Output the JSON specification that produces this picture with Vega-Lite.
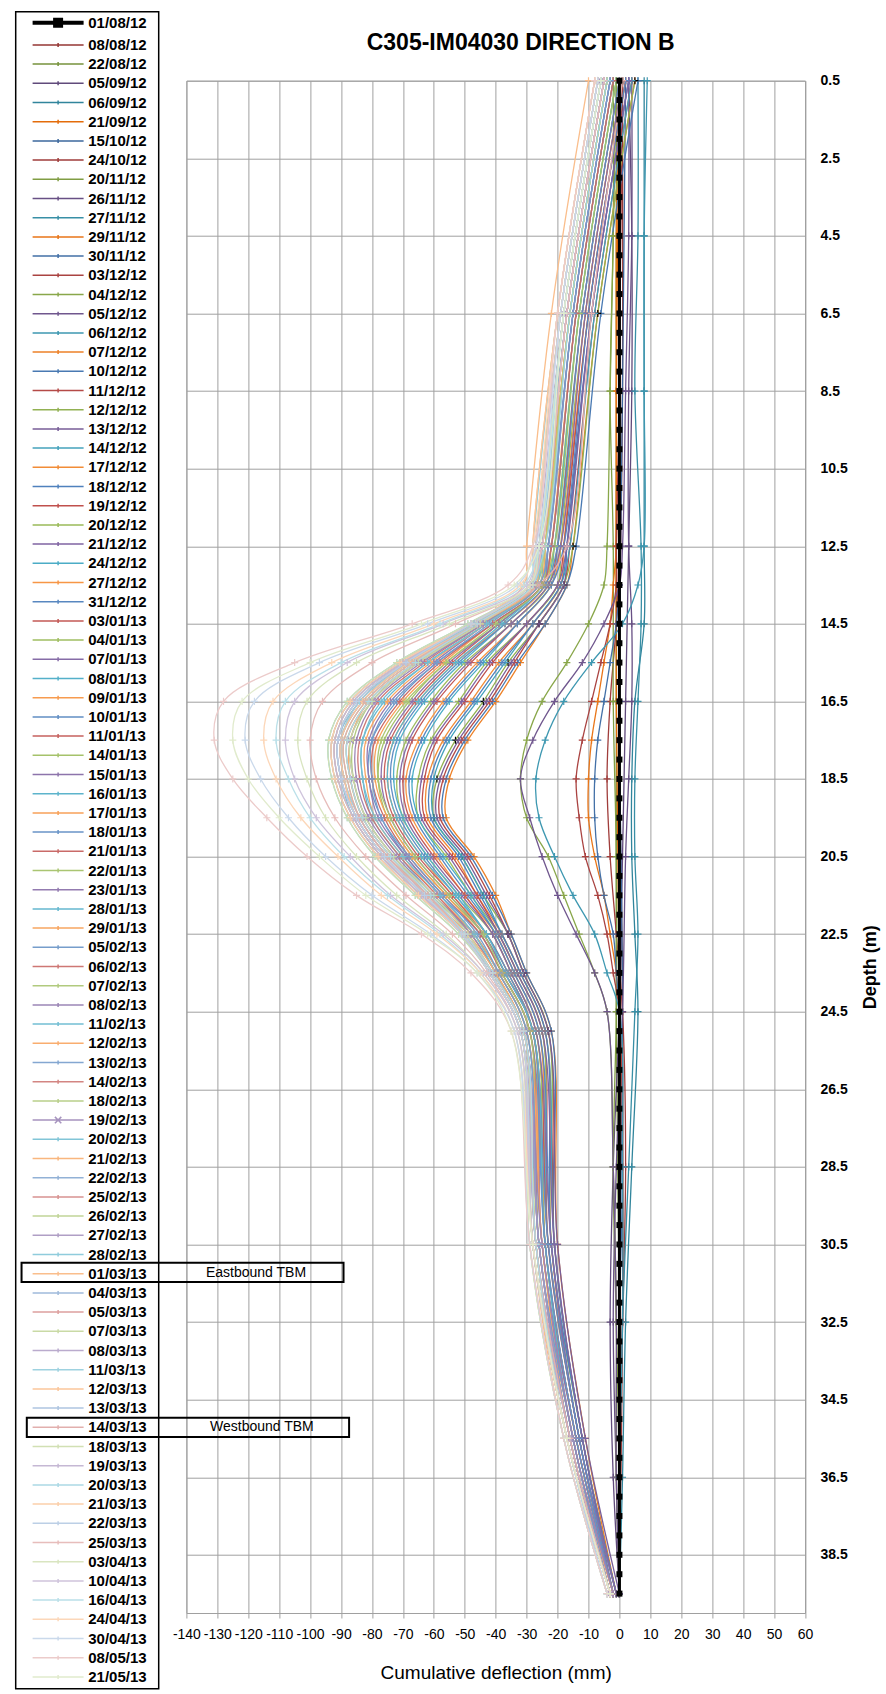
{
"$schema":"https://vega.github.io/schema/vega-lite/v6.json",
"width":618.6,"height":1532.3,
"autosize":{"type":"none"},
"padding":{"left":186.4,"top":80.7,"right":81,"bottom":81},
"background":"white",
"title":{"text":"C305-IM04030 DIRECTION B","font":"Liberation Sans","fontSize":23,"fontWeight":"bold","color":"black","anchor":"middle","frame":"group","dx":25,"offset":0,"dy":62,"baseline":"alphabetic"},
"config":{"view":{"stroke":"#A0A0A0","strokeWidth":1},"axis":{"gridColor":"#A0A0A0","gridWidth":1,"gridOpacity":1,"domainColor":"#A0A0A0","tickColor":"#A0A0A0"}},
"resolve":{"axis":{"x":"independent","y":"independent"}},
"datasets":{
"dates":[{"s":0,"d":"01/08/12"},{"s":1,"d":"08/08/12"},{"s":2,"d":"22/08/12"},{"s":3,"d":"05/09/12"},{"s":4,"d":"06/09/12"},{"s":5,"d":"21/09/12"},{"s":6,"d":"15/10/12"},{"s":7,"d":"24/10/12"},{"s":8,"d":"20/11/12"},{"s":9,"d":"26/11/12"},{"s":10,"d":"27/11/12"},{"s":11,"d":"29/11/12"},{"s":12,"d":"30/11/12"},{"s":13,"d":"03/12/12"},{"s":14,"d":"04/12/12"},{"s":15,"d":"05/12/12"},{"s":16,"d":"06/12/12"},{"s":17,"d":"07/12/12"},{"s":18,"d":"10/12/12"},{"s":19,"d":"11/12/12"},{"s":20,"d":"12/12/12"},{"s":21,"d":"13/12/12"},{"s":22,"d":"14/12/12"},{"s":23,"d":"17/12/12"},{"s":24,"d":"18/12/12"},{"s":25,"d":"19/12/12"},{"s":26,"d":"20/12/12"},{"s":27,"d":"21/12/12"},{"s":28,"d":"24/12/12"},{"s":29,"d":"27/12/12"},{"s":30,"d":"31/12/12"},{"s":31,"d":"03/01/13"},{"s":32,"d":"04/01/13"},{"s":33,"d":"07/01/13"},{"s":34,"d":"08/01/13"},{"s":35,"d":"09/01/13"},{"s":36,"d":"10/01/13"},{"s":37,"d":"11/01/13"},{"s":38,"d":"14/01/13"},{"s":39,"d":"15/01/13"},{"s":40,"d":"16/01/13"},{"s":41,"d":"17/01/13"},{"s":42,"d":"18/01/13"},{"s":43,"d":"21/01/13"},{"s":44,"d":"22/01/13"},{"s":45,"d":"23/01/13"},{"s":46,"d":"28/01/13"},{"s":47,"d":"29/01/13"},{"s":48,"d":"05/02/13"},{"s":49,"d":"06/02/13"},{"s":50,"d":"07/02/13"},{"s":51,"d":"08/02/13"},{"s":52,"d":"11/02/13"},{"s":53,"d":"12/02/13"},{"s":54,"d":"13/02/13"},{"s":55,"d":"14/02/13"},{"s":56,"d":"18/02/13"},{"s":57,"d":"19/02/13"},{"s":58,"d":"20/02/13"},{"s":59,"d":"21/02/13"},{"s":60,"d":"22/02/13"},{"s":61,"d":"25/02/13"},{"s":62,"d":"26/02/13"},{"s":63,"d":"27/02/13"},{"s":64,"d":"28/02/13"},{"s":65,"d":"01/03/13"},{"s":66,"d":"04/03/13"},{"s":67,"d":"05/03/13"},{"s":68,"d":"07/03/13"},{"s":69,"d":"08/03/13"},{"s":70,"d":"11/03/13"},{"s":71,"d":"12/03/13"},{"s":72,"d":"13/03/13"},{"s":73,"d":"14/03/13"},{"s":74,"d":"18/03/13"},{"s":75,"d":"19/03/13"},{"s":76,"d":"20/03/13"},{"s":77,"d":"21/03/13"},{"s":78,"d":"22/03/13"},{"s":79,"d":"25/03/13"},{"s":80,"d":"03/04/13"},{"s":81,"d":"10/04/13"},{"s":82,"d":"16/04/13"},{"s":83,"d":"24/04/13"},{"s":84,"d":"30/04/13"},{"s":85,"d":"08/05/13"},{"s":86,"d":"21/05/13"}],
"notes":[{"t":"Eastbound TBM"},{"t":"Westbound TBM"}],
"r":[
{"s":0,"z":0.5,"x":0},{"s":0,"z":1,"x":0},{"s":0,"z":1.5,"x":0},{"s":0,"z":2,"x":0},{"s":0,"z":2.5,"x":0},{"s":0,"z":3,"x":0},{"s":0,"z":3.5,"x":0},{"s":0,"z":4,"x":0},{"s":0,"z":4.5,"x":0},{"s":0,"z":5,"x":0},{"s":0,"z":5.5,"x":0},{"s":0,"z":6,"x":0},{"s":0,"z":6.5,"x":0},{"s":0,"z":7,"x":0},{"s":0,"z":7.5,"x":0},{"s":0,"z":8,"x":0},{"s":0,"z":8.5,"x":0},{"s":0,"z":9,"x":0},{"s":0,"z":9.5,"x":0},{"s":0,"z":10,"x":0},{"s":0,"z":10.5,"x":0},{"s":0,"z":11,"x":0},{"s":0,"z":11.5,"x":0},{"s":0,"z":12,"x":0},{"s":0,"z":12.5,"x":0},{"s":0,"z":13,"x":0},{"s":0,"z":13.5,"x":0},{"s":0,"z":14,"x":0},{"s":0,"z":14.5,"x":0},{"s":0,"z":15,"x":0},{"s":0,"z":15.5,"x":0},{"s":0,"z":16,"x":0},{"s":0,"z":16.5,"x":0},{"s":0,"z":17,"x":0},{"s":0,"z":17.5,"x":0},{"s":0,"z":18,"x":0},{"s":0,"z":18.5,"x":0},{"s":0,"z":19,"x":0},{"s":0,"z":19.5,"x":0},{"s":0,"z":20,"x":0},{"s":0,"z":20.5,"x":0},{"s":0,"z":21,"x":0},{"s":0,"z":21.5,"x":0},{"s":0,"z":22,"x":0},{"s":0,"z":22.5,"x":0},{"s":0,"z":23,"x":0},{"s":0,"z":23.5,"x":0},{"s":0,"z":24,"x":0},{"s":0,"z":24.5,"x":0},{"s":0,"z":25,"x":0},{"s":0,"z":25.5,"x":0},{"s":0,"z":26,"x":0},{"s":0,"z":26.5,"x":0},{"s":0,"z":27,"x":0},{"s":0,"z":27.5,"x":0},{"s":0,"z":28,"x":0},{"s":0,"z":28.5,"x":0},{"s":0,"z":29,"x":0},{"s":0,"z":29.5,"x":0},{"s":0,"z":30,"x":0},{"s":0,"z":30.5,"x":0},{"s":0,"z":31,"x":0},{"s":0,"z":31.5,"x":0},{"s":0,"z":32,"x":0},{"s":0,"z":32.5,"x":0},{"s":0,"z":33,"x":0},{"s":0,"z":33.5,"x":0},{"s":0,"z":34,"x":0},{"s":0,"z":34.5,"x":0},{"s":0,"z":35,"x":0},{"s":0,"z":35.5,"x":0},{"s":0,"z":36,"x":0},{"s":0,"z":36.5,"x":0},{"s":0,"z":37,"x":0},{"s":0,"z":37.5,"x":0},{"s":0,"z":38,"x":0},{"s":0,"z":38.5,"x":0},{"s":0,"z":39,"x":0},{"s":0,"z":39.5,"x":0},
{"s":1,"z":0.5,"x":1},{"s":1,"z":8.5,"x":1},{"s":1,"z":16.5,"x":0},{"s":1,"z":24.5,"x":1},{"s":1,"z":32.5,"x":1},{"s":1,"z":39.5,"x":0},
{"s":2,"z":0.5,"x":-1},{"s":2,"z":8.5,"x":-1},{"s":2,"z":16.5,"x":-1},{"s":2,"z":24.5,"x":-1},{"s":2,"z":32.5,"x":0},{"s":2,"z":39.5,"x":0},
{"s":3,"z":0.5,"x":3},{"s":3,"z":4.5,"x":4},{"s":3,"z":8.5,"x":4},{"s":3,"z":12.5,"x":3},{"s":3,"z":16.5,"x":2},{"s":3,"z":20.5,"x":1},{"s":3,"z":24.5,"x":0},{"s":3,"z":28.5,"x":-2},{"s":3,"z":32.5,"x":-3},{"s":3,"z":36.5,"x":-2},{"s":3,"z":39.5,"x":0},
{"s":4,"z":0.5,"x":8},{"s":4,"z":4.5,"x":8},{"s":4,"z":8.5,"x":8},{"s":4,"z":12.5,"x":8},{"s":4,"z":14.5,"x":8},{"s":4,"z":16.5,"x":5},{"s":4,"z":18.5,"x":4},{"s":4,"z":20.5,"x":4},{"s":4,"z":22.5,"x":5},{"s":4,"z":24.5,"x":6},{"s":4,"z":28.5,"x":4},{"s":4,"z":32.5,"x":2},{"s":4,"z":36.5,"x":1},{"s":4,"z":39.5,"x":0},
{"s":5,"z":0.5,"x":0},{"s":5,"z":8.5,"x":-1},{"s":5,"z":16.5,"x":-1},{"s":5,"z":24.5,"x":0},{"s":5,"z":32.5,"x":0},{"s":5,"z":39.5,"x":0},
{"s":6,"z":0.5,"x":2},{"s":6,"z":8.5,"x":1},{"s":6,"z":16.5,"x":0},{"s":6,"z":24.5,"x":1},{"s":6,"z":32.5,"x":0},{"s":6,"z":39.5,"x":0},
{"s":7,"z":0.5,"x":1},{"s":7,"z":8.5,"x":0},{"s":7,"z":12.5,"x":0},{"s":7,"z":14.5,"x":-1},{"s":7,"z":16.5,"x":-3},{"s":7,"z":18.5,"x":-4},{"s":7,"z":20.5,"x":-3},{"s":7,"z":22.5,"x":-1},{"s":7,"z":24.5,"x":1},{"s":7,"z":28.5,"x":2},{"s":7,"z":32.5,"x":1},{"s":7,"z":36.5,"x":0},{"s":7,"z":39.5,"x":0},
{"s":8,"z":0.5,"x":-2},{"s":8,"z":4.5,"x":-2},{"s":8,"z":8.5,"x":-3},{"s":8,"z":12.5,"x":-2},{"s":8,"z":16.5,"x":-2},{"s":8,"z":20.5,"x":-1},{"s":8,"z":24.5,"x":-1},{"s":8,"z":28.5,"x":-2},{"s":8,"z":32.5,"x":-1},{"s":8,"z":36.5,"x":0},{"s":8,"z":39.5,"x":0},
{"s":9,"z":0.5,"x":4},{"s":9,"z":4.5,"x":4},{"s":9,"z":8.5,"x":3},{"s":9,"z":12.5,"x":3},{"s":9,"z":14.5,"x":4},{"s":9,"z":16.5,"x":4},{"s":9,"z":18.5,"x":3},{"s":9,"z":20.5,"x":2},{"s":9,"z":24.5,"x":1},{"s":9,"z":28.5,"x":-1},{"s":9,"z":32.5,"x":-2},{"s":9,"z":36.5,"x":-1},{"s":9,"z":39.5,"x":0},
{"s":10,"z":0.5,"x":6},{"s":10,"z":4.5,"x":6},{"s":10,"z":8.5,"x":5},{"s":10,"z":12.5,"x":7},{"s":10,"z":14.5,"x":7},{"s":10,"z":16.5,"x":6},{"s":10,"z":18.5,"x":5},{"s":10,"z":20.5,"x":5},{"s":10,"z":22.5,"x":6},{"s":10,"z":24.5,"x":5},{"s":10,"z":28.5,"x":3},{"s":10,"z":32.5,"x":1},{"s":10,"z":36.5,"x":0},{"s":10,"z":39.5,"x":0},
{"s":11,"z":0.5,"x":0},{"s":11,"z":4.5,"x":-1},{"s":11,"z":8.5,"x":-1},{"s":11,"z":12.5,"x":-1},{"s":11,"z":13.5,"x":-2},{"s":11,"z":14.5,"x":-3},{"s":11,"z":15.5,"x":-5},{"s":11,"z":16.5,"x":-7},{"s":11,"z":17.5,"x":-9},{"s":11,"z":18.5,"x":-10},{"s":11,"z":19.5,"x":-10},{"s":11,"z":20.5,"x":-8},{"s":11,"z":21.5,"x":-5},{"s":11,"z":22.5,"x":-3},{"s":11,"z":23.5,"x":-1},{"s":11,"z":24.5,"x":0},{"s":11,"z":28.5,"x":0},{"s":11,"z":32.5,"x":0},{"s":11,"z":36.5,"x":0},{"s":11,"z":39.5,"x":0},
{"s":12,"z":0.5,"x":1},{"s":12,"z":4.5,"x":0},{"s":12,"z":8.5,"x":0},{"s":12,"z":12.5,"x":0},{"s":12,"z":13.5,"x":0},{"s":12,"z":14.5,"x":-1},{"s":12,"z":15.5,"x":-3},{"s":12,"z":16.5,"x":-5},{"s":12,"z":17.5,"x":-7},{"s":12,"z":18.5,"x":-8},{"s":12,"z":19.5,"x":-8},{"s":12,"z":20.5,"x":-7},{"s":12,"z":21.5,"x":-5},{"s":12,"z":22.5,"x":-2},{"s":12,"z":23.5,"x":-1},{"s":12,"z":24.5,"x":0},{"s":12,"z":28.5,"x":1},{"s":12,"z":32.5,"x":0},{"s":12,"z":36.5,"x":0},{"s":12,"z":39.5,"x":0},
{"s":13,"z":0.5,"x":1},{"s":13,"z":4.5,"x":0},{"s":13,"z":8.5,"x":0},{"s":13,"z":12.5,"x":-1},{"s":13,"z":13.5,"x":-1},{"s":13,"z":14.5,"x":-3},{"s":13,"z":15.5,"x":-6},{"s":13,"z":16.5,"x":-9},{"s":13,"z":17.5,"x":-12},{"s":13,"z":18.5,"x":-14},{"s":13,"z":19.5,"x":-13},{"s":13,"z":20.5,"x":-11},{"s":13,"z":21.5,"x":-7},{"s":13,"z":22.5,"x":-4},{"s":13,"z":23.5,"x":-2},{"s":13,"z":24.5,"x":0},{"s":13,"z":28.5,"x":1},{"s":13,"z":32.5,"x":1},{"s":13,"z":36.5,"x":0},{"s":13,"z":39.5,"x":0},
{"s":14,"z":0.5,"x":-1},{"s":14,"z":4.5,"x":-2},{"s":14,"z":8.5,"x":-3},{"s":14,"z":12.5,"x":-4},{"s":14,"z":13.5,"x":-5},{"s":14,"z":14.5,"x":-10},{"s":14,"z":15.5,"x":-17},{"s":14,"z":16.5,"x":-25},{"s":14,"z":17.5,"x":-30},{"s":14,"z":18.5,"x":-32},{"s":14,"z":19.5,"x":-30},{"s":14,"z":20.5,"x":-23},{"s":14,"z":21.5,"x":-18},{"s":14,"z":22.5,"x":-13},{"s":14,"z":23.5,"x":-8},{"s":14,"z":24.5,"x":-4},{"s":14,"z":28.5,"x":-2},{"s":14,"z":32.5,"x":-1},{"s":14,"z":36.5,"x":-1},{"s":14,"z":39.5,"x":0},
{"s":15,"z":0.5,"x":3},{"s":15,"z":4.5,"x":3},{"s":15,"z":8.5,"x":2},{"s":15,"z":12.5,"x":1},{"s":15,"z":13.5,"x":0},{"s":15,"z":14.5,"x":-5},{"s":15,"z":15.5,"x":-12},{"s":15,"z":16.5,"x":-21},{"s":15,"z":17.5,"x":-28},{"s":15,"z":18.5,"x":-32},{"s":15,"z":19.5,"x":-29},{"s":15,"z":20.5,"x":-25},{"s":15,"z":21.5,"x":-20},{"s":15,"z":22.5,"x":-14},{"s":15,"z":23.5,"x":-8},{"s":15,"z":24.5,"x":-4},{"s":15,"z":28.5,"x":-2},{"s":15,"z":32.5,"x":-1},{"s":15,"z":36.5,"x":-1},{"s":15,"z":39.5,"x":0},
{"s":16,"z":0.5,"x":9},{"s":16,"z":4.5,"x":8},{"s":16,"z":8.5,"x":8},{"s":16,"z":12.5,"x":8},{"s":16,"z":13.5,"x":6},{"s":16,"z":14.5,"x":1},{"s":16,"z":15.5,"x":-9},{"s":16,"z":16.5,"x":-18},{"s":16,"z":17.5,"x":-24},{"s":16,"z":18.5,"x":-27},{"s":16,"z":19.5,"x":-26},{"s":16,"z":20.5,"x":-21},{"s":16,"z":21.5,"x":-15},{"s":16,"z":22.5,"x":-8},{"s":16,"z":23.5,"x":-4},{"s":16,"z":24.5,"x":0},{"s":16,"z":28.5,"x":1},{"s":16,"z":32.5,"x":1},{"s":16,"z":36.5,"x":0},{"s":16,"z":39.5,"x":0},
{"s":17,"z":0.5,"x":5},{"s":17,"z":6.5,"x":-7},{"s":17,"z":12.5,"x":-15},{"s":17,"z":13.5,"x":-17},{"s":17,"z":14.5,"x":-24},{"s":17,"z":15.5,"x":-32},{"s":17,"z":16.5,"x":-40},{"s":17,"z":17.5,"x":-49},{"s":17,"z":18.5,"x":-55},{"s":17,"z":19.5,"x":-56},{"s":17,"z":20.5,"x":-47},{"s":17,"z":21.5,"x":-40},{"s":17,"z":22.5,"x":-35},{"s":17,"z":23.5,"x":-30},{"s":17,"z":25,"x":-22},{"s":17,"z":30.5,"x":-20},{"s":17,"z":35.5,"x":-11},{"s":17,"z":39.5,"x":-1},
{"s":18,"z":0.5,"x":6},{"s":18,"z":6.5,"x":-6},{"s":18,"z":12.5,"x":-14},{"s":18,"z":13.5,"x":-17},{"s":18,"z":14.5,"x":-24},{"s":18,"z":15.5,"x":-33},{"s":18,"z":16.5,"x":-41},{"s":18,"z":17.5,"x":-50},{"s":18,"z":18.5,"x":-56},{"s":18,"z":19.5,"x":-57},{"s":18,"z":20.5,"x":-48},{"s":18,"z":21.5,"x":-41},{"s":18,"z":22.5,"x":-35},{"s":18,"z":23.5,"x":-30},{"s":18,"z":25,"x":-22},{"s":18,"z":30.5,"x":-21},{"s":18,"z":35.5,"x":-12},{"s":18,"z":39.5,"x":-1},
{"s":19,"z":0.5,"x":4},{"s":19,"z":6.5,"x":-8},{"s":19,"z":12.5,"x":-16},{"s":19,"z":13.5,"x":-18},{"s":19,"z":14.5,"x":-26},{"s":19,"z":15.5,"x":-34},{"s":19,"z":16.5,"x":-42},{"s":19,"z":17.5,"x":-51},{"s":19,"z":18.5,"x":-57},{"s":19,"z":19.5,"x":-58},{"s":19,"z":20.5,"x":-49},{"s":19,"z":21.5,"x":-42},{"s":19,"z":22.5,"x":-36},{"s":19,"z":23.5,"x":-31},{"s":19,"z":25,"x":-23},{"s":19,"z":30.5,"x":-21},{"s":19,"z":35.5,"x":-12},{"s":19,"z":39.5,"x":-1},
{"s":20,"z":0.5,"x":5},{"s":20,"z":6.5,"x":-7},{"s":20,"z":12.5,"x":-15},{"s":20,"z":13.5,"x":-18},{"s":20,"z":14.5,"x":-26},{"s":20,"z":15.5,"x":-36},{"s":20,"z":16.5,"x":-44},{"s":20,"z":17.5,"x":-53},{"s":20,"z":18.5,"x":-59},{"s":20,"z":19.5,"x":-60},{"s":20,"z":20.5,"x":-51},{"s":20,"z":21.5,"x":-44},{"s":20,"z":22.5,"x":-36},{"s":20,"z":23.5,"x":-31},{"s":20,"z":25,"x":-23},{"s":20,"z":30.5,"x":-22},{"s":20,"z":35.5,"x":-12},{"s":20,"z":39.5,"x":-1},
{"s":21,"z":0.5,"x":3},{"s":21,"z":6.5,"x":-9},{"s":21,"z":12.5,"x":-17},{"s":21,"z":13.5,"x":-18},{"s":21,"z":14.5,"x":-26},{"s":21,"z":15.5,"x":-35},{"s":21,"z":16.5,"x":-43},{"s":21,"z":17.5,"x":-52},{"s":21,"z":18.5,"x":-58},{"s":21,"z":19.5,"x":-59},{"s":21,"z":20.5,"x":-50},{"s":21,"z":21.5,"x":-43},{"s":21,"z":22.5,"x":-36},{"s":21,"z":23.5,"x":-31},{"s":21,"z":25,"x":-23},{"s":21,"z":30.5,"x":-20},{"s":21,"z":35.5,"x":-11},{"s":21,"z":39.5,"x":0},
{"s":22,"z":0.5,"x":4},{"s":22,"z":6.5,"x":-8},{"s":22,"z":12.5,"x":-16},{"s":22,"z":13.5,"x":-19},{"s":22,"z":14.5,"x":-28},{"s":22,"z":15.5,"x":-37},{"s":22,"z":16.5,"x":-46},{"s":22,"z":17.5,"x":-55},{"s":22,"z":18.5,"x":-60},{"s":22,"z":19.5,"x":-60},{"s":22,"z":20.5,"x":-51},{"s":22,"z":21.5,"x":-44},{"s":22,"z":22.5,"x":-38},{"s":22,"z":23.5,"x":-32},{"s":22,"z":25,"x":-24},{"s":22,"z":30.5,"x":-21},{"s":22,"z":35.5,"x":-12},{"s":22,"z":39.5,"x":-1},
{"s":23,"z":0.5,"x":2},{"s":23,"z":6.5,"x":-10},{"s":23,"z":12.5,"x":-18},{"s":23,"z":13.5,"x":-19},{"s":23,"z":14.5,"x":-28},{"s":23,"z":15.5,"x":-39},{"s":23,"z":16.5,"x":-48},{"s":23,"z":17.5,"x":-57},{"s":23,"z":18.5,"x":-62},{"s":23,"z":19.5,"x":-62},{"s":23,"z":20.5,"x":-53},{"s":23,"z":21.5,"x":-46},{"s":23,"z":22.5,"x":-38},{"s":23,"z":23.5,"x":-32},{"s":23,"z":25,"x":-24},{"s":23,"z":30.5,"x":-22},{"s":23,"z":35.5,"x":-13},{"s":23,"z":39.5,"x":-1},
{"s":24,"z":0.5,"x":3},{"s":24,"z":6.5,"x":-9},{"s":24,"z":12.5,"x":-17},{"s":24,"z":13.5,"x":-19},{"s":24,"z":14.5,"x":-28},{"s":24,"z":15.5,"x":-38},{"s":24,"z":16.5,"x":-47},{"s":24,"z":17.5,"x":-56},{"s":24,"z":18.5,"x":-61},{"s":24,"z":19.5,"x":-61},{"s":24,"z":20.5,"x":-52},{"s":24,"z":21.5,"x":-45},{"s":24,"z":22.5,"x":-38},{"s":24,"z":23.5,"x":-32},{"s":24,"z":25,"x":-24},{"s":24,"z":30.5,"x":-22},{"s":24,"z":35.5,"x":-12},{"s":24,"z":39.5,"x":-2},
{"s":25,"z":0.5,"x":2},{"s":25,"z":6.5,"x":-10},{"s":25,"z":12.5,"x":-18},{"s":25,"z":13.5,"x":-20},{"s":25,"z":14.5,"x":-30},{"s":25,"z":15.5,"x":-41},{"s":25,"z":16.5,"x":-50},{"s":25,"z":17.5,"x":-59},{"s":25,"z":18.5,"x":-63},{"s":25,"z":19.5,"x":-63},{"s":25,"z":20.5,"x":-54},{"s":25,"z":21.5,"x":-46},{"s":25,"z":22.5,"x":-39},{"s":25,"z":23.5,"x":-33},{"s":25,"z":25,"x":-25},{"s":25,"z":30.5,"x":-23},{"s":25,"z":35.5,"x":-13},{"s":25,"z":39.5,"x":-2},
{"s":26,"z":0.5,"x":1},{"s":26,"z":6.5,"x":-11},{"s":26,"z":12.5,"x":-19},{"s":26,"z":13.5,"x":-20},{"s":26,"z":14.5,"x":-30},{"s":26,"z":15.5,"x":-43},{"s":26,"z":16.5,"x":-52},{"s":26,"z":17.5,"x":-61},{"s":26,"z":18.5,"x":-65},{"s":26,"z":19.5,"x":-65},{"s":26,"z":20.5,"x":-56},{"s":26,"z":21.5,"x":-48},{"s":26,"z":22.5,"x":-39},{"s":26,"z":23.5,"x":-33},{"s":26,"z":25,"x":-25},{"s":26,"z":30.5,"x":-24},{"s":26,"z":35.5,"x":-14},{"s":26,"z":39.5,"x":-2},
{"s":27,"z":0.5,"x":3},{"s":27,"z":6.5,"x":-9},{"s":27,"z":12.5,"x":-17},{"s":27,"z":13.5,"x":-20},{"s":27,"z":14.5,"x":-30},{"s":27,"z":15.5,"x":-42},{"s":27,"z":16.5,"x":-51},{"s":27,"z":17.5,"x":-60},{"s":27,"z":18.5,"x":-64},{"s":27,"z":19.5,"x":-64},{"s":27,"z":20.5,"x":-55},{"s":27,"z":21.5,"x":-47},{"s":27,"z":22.5,"x":-39},{"s":27,"z":23.5,"x":-33},{"s":27,"z":25,"x":-25},{"s":27,"z":30.5,"x":-21},{"s":27,"z":35.5,"x":-12},{"s":27,"z":39.5,"x":-1},
{"s":28,"z":0.5,"x":0},{"s":28,"z":6.5,"x":-12},{"s":28,"z":12.5,"x":-20},{"s":28,"z":13.5,"x":-22},{"s":28,"z":14.5,"x":-33},{"s":28,"z":15.5,"x":-44},{"s":28,"z":16.5,"x":-55},{"s":28,"z":17.5,"x":-63},{"s":28,"z":18.5,"x":-67},{"s":28,"z":19.5,"x":-65},{"s":28,"z":20.5,"x":-57},{"s":28,"z":21.5,"x":-48},{"s":28,"z":22.5,"x":-40},{"s":28,"z":23.5,"x":-34},{"s":28,"z":25,"x":-26},{"s":28,"z":30.5,"x":-23},{"s":28,"z":35.5,"x":-13},{"s":28,"z":39.5,"x":-2},
{"s":29,"z":0.5,"x":1},{"s":29,"z":6.5,"x":-11},{"s":29,"z":12.5,"x":-19},{"s":29,"z":13.5,"x":-22},{"s":29,"z":14.5,"x":-33},{"s":29,"z":15.5,"x":-46},{"s":29,"z":16.5,"x":-57},{"s":29,"z":17.5,"x":-65},{"s":29,"z":18.5,"x":-69},{"s":29,"z":19.5,"x":-67},{"s":29,"z":20.5,"x":-59},{"s":29,"z":21.5,"x":-50},{"s":29,"z":22.5,"x":-40},{"s":29,"z":23.5,"x":-34},{"s":29,"z":25,"x":-26},{"s":29,"z":30.5,"x":-24},{"s":29,"z":35.5,"x":-14},{"s":29,"z":39.5,"x":-2},
{"s":30,"z":0.5,"x":2},{"s":30,"z":6.5,"x":-10},{"s":30,"z":12.5,"x":-18},{"s":30,"z":13.5,"x":-22},{"s":30,"z":14.5,"x":-33},{"s":30,"z":15.5,"x":-45},{"s":30,"z":16.5,"x":-56},{"s":30,"z":17.5,"x":-64},{"s":30,"z":18.5,"x":-68},{"s":30,"z":19.5,"x":-66},{"s":30,"z":20.5,"x":-58},{"s":30,"z":21.5,"x":-49},{"s":30,"z":22.5,"x":-40},{"s":30,"z":23.5,"x":-34},{"s":30,"z":25,"x":-26},{"s":30,"z":30.5,"x":-22},{"s":30,"z":35.5,"x":-13},{"s":30,"z":39.5,"x":-1},
{"s":31,"z":0.5,"x":0},{"s":31,"z":6.5,"x":-12},{"s":31,"z":12.5,"x":-20},{"s":31,"z":13.5,"x":-23},{"s":31,"z":14.5,"x":-35},{"s":31,"z":15.5,"x":-48},{"s":31,"z":16.5,"x":-59},{"s":31,"z":17.5,"x":-67},{"s":31,"z":18.5,"x":-70},{"s":31,"z":19.5,"x":-68},{"s":31,"z":20.5,"x":-60},{"s":31,"z":21.5,"x":-50},{"s":31,"z":22.5,"x":-41},{"s":31,"z":23.5,"x":-35},{"s":31,"z":25,"x":-27},{"s":31,"z":30.5,"x":-23},{"s":31,"z":35.5,"x":-13},{"s":31,"z":39.5,"x":-2},
{"s":32,"z":0.5,"x":-1},{"s":32,"z":6.5,"x":-13},{"s":32,"z":12.5,"x":-21},{"s":32,"z":13.5,"x":-23},{"s":32,"z":14.5,"x":-35},{"s":32,"z":15.5,"x":-50},{"s":32,"z":16.5,"x":-61},{"s":32,"z":17.5,"x":-69},{"s":32,"z":18.5,"x":-72},{"s":32,"z":19.5,"x":-70},{"s":32,"z":20.5,"x":-62},{"s":32,"z":21.5,"x":-52},{"s":32,"z":22.5,"x":-41},{"s":32,"z":23.5,"x":-35},{"s":32,"z":25,"x":-27},{"s":32,"z":30.5,"x":-24},{"s":32,"z":35.5,"x":-14},{"s":32,"z":39.5,"x":-2},
{"s":33,"z":0.5,"x":1},{"s":33,"z":6.5,"x":-11},{"s":33,"z":12.5,"x":-19},{"s":33,"z":13.5,"x":-23},{"s":33,"z":14.5,"x":-35},{"s":33,"z":15.5,"x":-49},{"s":33,"z":16.5,"x":-60},{"s":33,"z":17.5,"x":-68},{"s":33,"z":18.5,"x":-71},{"s":33,"z":19.5,"x":-69},{"s":33,"z":20.5,"x":-61},{"s":33,"z":21.5,"x":-51},{"s":33,"z":22.5,"x":-41},{"s":33,"z":23.5,"x":-35},{"s":33,"z":25,"x":-27},{"s":33,"z":30.5,"x":-22},{"s":33,"z":35.5,"x":-13},{"s":33,"z":39.5,"x":-1},
{"s":34,"z":0.5,"x":-1},{"s":34,"z":6.5,"x":-13},{"s":34,"z":12.5,"x":-21},{"s":34,"z":13.5,"x":-24},{"s":34,"z":14.5,"x":-37},{"s":34,"z":15.5,"x":-51},{"s":34,"z":16.5,"x":-63},{"s":34,"z":17.5,"x":-71},{"s":34,"z":18.5,"x":-73},{"s":34,"z":19.5,"x":-70},{"s":34,"z":20.5,"x":-62},{"s":34,"z":21.5,"x":-52},{"s":34,"z":22.5,"x":-43},{"s":34,"z":23.5,"x":-36},{"s":34,"z":25,"x":-28},{"s":34,"z":30.5,"x":-24},{"s":34,"z":35.5,"x":-14},{"s":34,"z":39.5,"x":-2},
{"s":35,"z":0.5,"x":-2},{"s":35,"z":6.5,"x":-14},{"s":35,"z":12.5,"x":-22},{"s":35,"z":13.5,"x":-24},{"s":35,"z":14.5,"x":-37},{"s":35,"z":15.5,"x":-53},{"s":35,"z":16.5,"x":-65},{"s":35,"z":17.5,"x":-73},{"s":35,"z":18.5,"x":-75},{"s":35,"z":19.5,"x":-72},{"s":35,"z":20.5,"x":-64},{"s":35,"z":21.5,"x":-54},{"s":35,"z":22.5,"x":-43},{"s":35,"z":23.5,"x":-36},{"s":35,"z":25,"x":-28},{"s":35,"z":30.5,"x":-25},{"s":35,"z":35.5,"x":-14},{"s":35,"z":39.5,"x":-2},
{"s":36,"z":0.5,"x":0},{"s":36,"z":6.5,"x":-12},{"s":36,"z":12.5,"x":-20},{"s":36,"z":13.5,"x":-24},{"s":36,"z":14.5,"x":-37},{"s":36,"z":15.5,"x":-52},{"s":36,"z":16.5,"x":-64},{"s":36,"z":17.5,"x":-72},{"s":36,"z":18.5,"x":-74},{"s":36,"z":19.5,"x":-71},{"s":36,"z":20.5,"x":-63},{"s":36,"z":21.5,"x":-53},{"s":36,"z":22.5,"x":-43},{"s":36,"z":23.5,"x":-36},{"s":36,"z":25,"x":-28},{"s":36,"z":30.5,"x":-23},{"s":36,"z":35.5,"x":-13},{"s":36,"z":39.5,"x":-2},
{"s":37,"z":0.5,"x":-2},{"s":37,"z":6.5,"x":-14},{"s":37,"z":12.5,"x":-22},{"s":37,"z":13.5,"x":-25},{"s":37,"z":14.5,"x":-39},{"s":37,"z":15.5,"x":-54},{"s":37,"z":16.5,"x":-66},{"s":37,"z":17.5,"x":-74},{"s":37,"z":18.5,"x":-76},{"s":37,"z":19.5,"x":-73},{"s":37,"z":20.5,"x":-65},{"s":37,"z":21.5,"x":-54},{"s":37,"z":22.5,"x":-44},{"s":37,"z":23.5,"x":-37},{"s":37,"z":25,"x":-28},{"s":37,"z":30.5,"x":-24},{"s":37,"z":35.5,"x":-14},{"s":37,"z":39.5,"x":-2},
{"s":38,"z":0.5,"x":-1},{"s":38,"z":6.5,"x":-13},{"s":38,"z":12.5,"x":-21},{"s":38,"z":13.5,"x":-25},{"s":38,"z":14.5,"x":-39},{"s":38,"z":15.5,"x":-56},{"s":38,"z":16.5,"x":-68},{"s":38,"z":17.5,"x":-76},{"s":38,"z":18.5,"x":-78},{"s":38,"z":19.5,"x":-75},{"s":38,"z":20.5,"x":-67},{"s":38,"z":21.5,"x":-56},{"s":38,"z":22.5,"x":-44},{"s":38,"z":23.5,"x":-37},{"s":38,"z":25,"x":-28},{"s":38,"z":30.5,"x":-26},{"s":38,"z":35.5,"x":-15},{"s":38,"z":39.5,"x":-3},
{"s":39,"z":0.5,"x":-3},{"s":39,"z":6.5,"x":-15},{"s":39,"z":12.5,"x":-23},{"s":39,"z":13.5,"x":-25},{"s":39,"z":14.5,"x":-39},{"s":39,"z":15.5,"x":-55},{"s":39,"z":16.5,"x":-67},{"s":39,"z":17.5,"x":-75},{"s":39,"z":18.5,"x":-77},{"s":39,"z":19.5,"x":-74},{"s":39,"z":20.5,"x":-66},{"s":39,"z":21.5,"x":-55},{"s":39,"z":22.5,"x":-44},{"s":39,"z":23.5,"x":-37},{"s":39,"z":25,"x":-28},{"s":39,"z":30.5,"x":-25},{"s":39,"z":35.5,"x":-14},{"s":39,"z":39.5,"x":-2},
{"s":40,"z":0.5,"x":-2},{"s":40,"z":6.5,"x":-14},{"s":40,"z":12.5,"x":-22},{"s":40,"z":13.5,"x":-25},{"s":40,"z":14.5,"x":-38},{"s":40,"z":15.5,"x":-53},{"s":40,"z":16.5,"x":-65},{"s":40,"z":17.5,"x":-73},{"s":40,"z":18.5,"x":-75},{"s":40,"z":19.5,"x":-72},{"s":40,"z":20.5,"x":-64},{"s":40,"z":21.5,"x":-53},{"s":40,"z":22.5,"x":-43},{"s":40,"z":23.5,"x":-37},{"s":40,"z":25,"x":-28},{"s":40,"z":30.5,"x":-24},{"s":40,"z":35.5,"x":-15},{"s":40,"z":39.5,"x":-2},
{"s":41,"z":0.5,"x":-4},{"s":41,"z":6.5,"x":-16},{"s":41,"z":12.5,"x":-24},{"s":41,"z":13.5,"x":-25},{"s":41,"z":14.5,"x":-41},{"s":41,"z":15.5,"x":-57},{"s":41,"z":16.5,"x":-70},{"s":41,"z":17.5,"x":-78},{"s":41,"z":18.5,"x":-79},{"s":41,"z":19.5,"x":-75},{"s":41,"z":20.5,"x":-67},{"s":41,"z":21.5,"x":-56},{"s":41,"z":22.5,"x":-45},{"s":41,"z":23.5,"x":-38},{"s":41,"z":25,"x":-29},{"s":41,"z":30.5,"x":-25},{"s":41,"z":35.5,"x":-15},{"s":41,"z":39.5,"x":-2},
{"s":42,"z":0.5,"x":-3},{"s":42,"z":6.5,"x":-15},{"s":42,"z":12.5,"x":-23},{"s":42,"z":13.5,"x":-25},{"s":42,"z":14.5,"x":-41},{"s":42,"z":15.5,"x":-59},{"s":42,"z":16.5,"x":-72},{"s":42,"z":17.5,"x":-80},{"s":42,"z":18.5,"x":-81},{"s":42,"z":19.5,"x":-77},{"s":42,"z":20.5,"x":-69},{"s":42,"z":21.5,"x":-58},{"s":42,"z":22.5,"x":-45},{"s":42,"z":23.5,"x":-38},{"s":42,"z":25,"x":-29},{"s":42,"z":30.5,"x":-24},{"s":42,"z":35.5,"x":-14},{"s":42,"z":39.5,"x":-2},
{"s":43,"z":0.5,"x":-2},{"s":43,"z":6.5,"x":-14},{"s":43,"z":12.5,"x":-22},{"s":43,"z":13.5,"x":-25},{"s":43,"z":14.5,"x":-41},{"s":43,"z":15.5,"x":-58},{"s":43,"z":16.5,"x":-71},{"s":43,"z":17.5,"x":-79},{"s":43,"z":18.5,"x":-80},{"s":43,"z":19.5,"x":-76},{"s":43,"z":20.5,"x":-68},{"s":43,"z":21.5,"x":-57},{"s":43,"z":22.5,"x":-45},{"s":43,"z":23.5,"x":-38},{"s":43,"z":25,"x":-29},{"s":43,"z":30.5,"x":-26},{"s":43,"z":35.5,"x":-15},{"s":43,"z":39.5,"x":-3},
{"s":44,"z":0.5,"x":-4},{"s":44,"z":6.5,"x":-16},{"s":44,"z":12.5,"x":-24},{"s":44,"z":13.5,"x":-25},{"s":44,"z":14.5,"x":-40},{"s":44,"z":15.5,"x":-56},{"s":44,"z":16.5,"x":-69},{"s":44,"z":17.5,"x":-77},{"s":44,"z":18.5,"x":-78},{"s":44,"z":19.5,"x":-74},{"s":44,"z":20.5,"x":-66},{"s":44,"z":21.5,"x":-55},{"s":44,"z":22.5,"x":-44},{"s":44,"z":23.5,"x":-38},{"s":44,"z":25,"x":-29},{"s":44,"z":30.5,"x":-27},{"s":44,"z":35.5,"x":-16},{"s":44,"z":39.5,"x":-3},
{"s":45,"z":0.5,"x":-3},{"s":45,"z":6.5,"x":-15},{"s":45,"z":12.5,"x":-23},{"s":45,"z":13.5,"x":-26},{"s":45,"z":14.5,"x":-43},{"s":45,"z":15.5,"x":-60},{"s":45,"z":16.5,"x":-74},{"s":45,"z":17.5,"x":-81},{"s":45,"z":18.5,"x":-81},{"s":45,"z":19.5,"x":-78},{"s":45,"z":20.5,"x":-69},{"s":45,"z":21.5,"x":-58},{"s":45,"z":22.5,"x":-47},{"s":45,"z":23.5,"x":-39},{"s":45,"z":25,"x":-30},{"s":45,"z":30.5,"x":-25},{"s":45,"z":35.5,"x":-15},{"s":45,"z":39.5,"x":-2},
{"s":46,"z":0.5,"x":-5},{"s":46,"z":6.5,"x":-17},{"s":46,"z":12.5,"x":-25},{"s":46,"z":13.5,"x":-26},{"s":46,"z":14.5,"x":-43},{"s":46,"z":15.5,"x":-62},{"s":46,"z":16.5,"x":-76},{"s":46,"z":17.5,"x":-83},{"s":46,"z":18.5,"x":-83},{"s":46,"z":19.5,"x":-80},{"s":46,"z":20.5,"x":-71},{"s":46,"z":21.5,"x":-60},{"s":46,"z":22.5,"x":-47},{"s":46,"z":23.5,"x":-39},{"s":46,"z":25,"x":-30},{"s":46,"z":30.5,"x":-26},{"s":46,"z":35.5,"x":-15},{"s":46,"z":39.5,"x":-3},
{"s":47,"z":0.5,"x":-4},{"s":47,"z":6.5,"x":-16},{"s":47,"z":12.5,"x":-24},{"s":47,"z":13.5,"x":-26},{"s":47,"z":14.5,"x":-43},{"s":47,"z":15.5,"x":-61},{"s":47,"z":16.5,"x":-75},{"s":47,"z":17.5,"x":-82},{"s":47,"z":18.5,"x":-82},{"s":47,"z":19.5,"x":-79},{"s":47,"z":20.5,"x":-70},{"s":47,"z":21.5,"x":-59},{"s":47,"z":22.5,"x":-47},{"s":47,"z":23.5,"x":-39},{"s":47,"z":25,"x":-30},{"s":47,"z":30.5,"x":-25},{"s":47,"z":35.5,"x":-16},{"s":47,"z":39.5,"x":-2},
{"s":48,"z":0.5,"x":-3},{"s":48,"z":6.5,"x":-15},{"s":48,"z":12.5,"x":-23},{"s":48,"z":13.5,"x":-26},{"s":48,"z":14.5,"x":-42},{"s":48,"z":15.5,"x":-59},{"s":48,"z":16.5,"x":-73},{"s":48,"z":17.5,"x":-80},{"s":48,"z":18.5,"x":-80},{"s":48,"z":19.5,"x":-77},{"s":48,"z":20.5,"x":-68},{"s":48,"z":21.5,"x":-57},{"s":48,"z":22.5,"x":-46},{"s":48,"z":23.5,"x":-39},{"s":48,"z":25,"x":-30},{"s":48,"z":30.5,"x":-26},{"s":48,"z":35.5,"x":-15},{"s":48,"z":39.5,"x":-3},
{"s":49,"z":0.5,"x":-5},{"s":49,"z":6.5,"x":-17},{"s":49,"z":12.5,"x":-25},{"s":49,"z":13.5,"x":-27},{"s":49,"z":14.5,"x":-44},{"s":49,"z":15.5,"x":-63},{"s":49,"z":16.5,"x":-78},{"s":49,"z":17.5,"x":-84},{"s":49,"z":18.5,"x":-84},{"s":49,"z":19.5,"x":-80},{"s":49,"z":20.5,"x":-71},{"s":49,"z":21.5,"x":-59},{"s":49,"z":22.5,"x":-48},{"s":49,"z":23.5,"x":-40},{"s":49,"z":25,"x":-31},{"s":49,"z":30.5,"x":-26},{"s":49,"z":35.5,"x":-16},{"s":49,"z":39.5,"x":-3},
{"s":50,"z":0.5,"x":-4},{"s":50,"z":6.5,"x":-16},{"s":50,"z":12.5,"x":-24},{"s":50,"z":13.5,"x":-27},{"s":50,"z":14.5,"x":-44},{"s":50,"z":15.5,"x":-65},{"s":50,"z":16.5,"x":-80},{"s":50,"z":17.5,"x":-86},{"s":50,"z":18.5,"x":-86},{"s":50,"z":19.5,"x":-82},{"s":50,"z":20.5,"x":-73},{"s":50,"z":21.5,"x":-61},{"s":50,"z":22.5,"x":-48},{"s":50,"z":23.5,"x":-40},{"s":50,"z":25,"x":-31},{"s":50,"z":30.5,"x":-27},{"s":50,"z":35.5,"x":-16},{"s":50,"z":39.5,"x":-3},
{"s":51,"z":0.5,"x":-6},{"s":51,"z":6.5,"x":-18},{"s":51,"z":12.5,"x":-26},{"s":51,"z":13.5,"x":-27},{"s":51,"z":14.5,"x":-44},{"s":51,"z":15.5,"x":-64},{"s":51,"z":16.5,"x":-79},{"s":51,"z":17.5,"x":-85},{"s":51,"z":18.5,"x":-85},{"s":51,"z":19.5,"x":-81},{"s":51,"z":20.5,"x":-72},{"s":51,"z":21.5,"x":-60},{"s":51,"z":22.5,"x":-48},{"s":51,"z":23.5,"x":-40},{"s":51,"z":25,"x":-31},{"s":51,"z":30.5,"x":-25},{"s":51,"z":35.5,"x":-15},{"s":51,"z":39.5,"x":-2},
{"s":52,"z":0.5,"x":-5},{"s":52,"z":6.5,"x":-17},{"s":52,"z":12.5,"x":-25},{"s":52,"z":13.5,"x":-27},{"s":52,"z":14.5,"x":-43},{"s":52,"z":15.5,"x":-62},{"s":52,"z":16.5,"x":-77},{"s":52,"z":17.5,"x":-83},{"s":52,"z":18.5,"x":-83},{"s":52,"z":19.5,"x":-79},{"s":52,"z":20.5,"x":-70},{"s":52,"z":21.5,"x":-58},{"s":52,"z":22.5,"x":-47},{"s":52,"z":23.5,"x":-40},{"s":52,"z":25,"x":-31},{"s":52,"z":30.5,"x":-26},{"s":52,"z":35.5,"x":-16},{"s":52,"z":39.5,"x":-3},
{"s":53,"z":0.5,"x":-7},{"s":53,"z":6.5,"x":-19},{"s":53,"z":12.5,"x":-27},{"s":53,"z":13.5,"x":-27},{"s":53,"z":14.5,"x":-45},{"s":53,"z":15.5,"x":-66},{"s":53,"z":16.5,"x":-81},{"s":53,"z":17.5,"x":-87},{"s":53,"z":18.5,"x":-87},{"s":53,"z":19.5,"x":-83},{"s":53,"z":20.5,"x":-74},{"s":53,"z":21.5,"x":-62},{"s":53,"z":22.5,"x":-49},{"s":53,"z":23.5,"x":-40},{"s":53,"z":25,"x":-31},{"s":53,"z":30.5,"x":-27},{"s":53,"z":35.5,"x":-17},{"s":53,"z":39.5,"x":-3},
{"s":54,"z":0.5,"x":-5},{"s":54,"z":6.5,"x":-17},{"s":54,"z":12.5,"x":-25},{"s":54,"z":13.5,"x":-28},{"s":54,"z":14.5,"x":-46},{"s":54,"z":15.5,"x":-66},{"s":54,"z":16.5,"x":-81},{"s":54,"z":17.5,"x":-88},{"s":54,"z":18.5,"x":-87},{"s":54,"z":19.5,"x":-83},{"s":54,"z":20.5,"x":-74},{"s":54,"z":21.5,"x":-61},{"s":54,"z":22.5,"x":-50},{"s":54,"z":23.5,"x":-41},{"s":54,"z":25,"x":-31},{"s":54,"z":30.5,"x":-26},{"s":54,"z":35.5,"x":-16},{"s":54,"z":39.5,"x":-3},
{"s":55,"z":0.5,"x":-6},{"s":55,"z":6.5,"x":-18},{"s":55,"z":12.5,"x":-26},{"s":55,"z":13.5,"x":-28},{"s":55,"z":14.5,"x":-46},{"s":55,"z":15.5,"x":-68},{"s":55,"z":16.5,"x":-83},{"s":55,"z":17.5,"x":-90},{"s":55,"z":18.5,"x":-89},{"s":55,"z":19.5,"x":-85},{"s":55,"z":20.5,"x":-76},{"s":55,"z":21.5,"x":-63},{"s":55,"z":22.5,"x":-50},{"s":55,"z":23.5,"x":-41},{"s":55,"z":25,"x":-31},{"s":55,"z":30.5,"x":-27},{"s":55,"z":35.5,"x":-16},{"s":55,"z":39.5,"x":-3},
{"s":56,"z":0.5,"x":-4},{"s":56,"z":6.5,"x":-16},{"s":56,"z":12.5,"x":-24},{"s":56,"z":13.5,"x":-28},{"s":56,"z":14.5,"x":-46},{"s":56,"z":15.5,"x":-67},{"s":56,"z":16.5,"x":-82},{"s":56,"z":17.5,"x":-89},{"s":56,"z":18.5,"x":-88},{"s":56,"z":19.5,"x":-84},{"s":56,"z":20.5,"x":-75},{"s":56,"z":21.5,"x":-62},{"s":56,"z":22.5,"x":-50},{"s":56,"z":23.5,"x":-41},{"s":56,"z":25,"x":-31},{"s":56,"z":30.5,"x":-28},{"s":56,"z":35.5,"x":-17},{"s":56,"z":39.5,"x":-3},
{"s":57,"z":0.5,"x":-6},{"s":57,"z":6.5,"x":-18},{"s":57,"z":12.5,"x":-26},{"s":57,"z":13.5,"x":-28},{"s":57,"z":14.5,"x":-45},{"s":57,"z":15.5,"x":-65},{"s":57,"z":16.5,"x":-80},{"s":57,"z":17.5,"x":-87},{"s":57,"z":18.5,"x":-86},{"s":57,"z":19.5,"x":-82},{"s":57,"z":20.5,"x":-73},{"s":57,"z":21.5,"x":-60},{"s":57,"z":22.5,"x":-49},{"s":57,"z":23.5,"x":-41},{"s":57,"z":25,"x":-31},{"s":57,"z":30.5,"x":-26},{"s":57,"z":35.5,"x":-16},{"s":57,"z":39.5,"x":-3},
{"s":58,"z":0.5,"x":-7},{"s":58,"z":6.5,"x":-19},{"s":58,"z":12.5,"x":-27},{"s":58,"z":13.5,"x":-28},{"s":58,"z":14.5,"x":-47},{"s":58,"z":15.5,"x":-69},{"s":58,"z":16.5,"x":-84},{"s":58,"z":17.5,"x":-91},{"s":58,"z":18.5,"x":-90},{"s":58,"z":19.5,"x":-86},{"s":58,"z":20.5,"x":-77},{"s":58,"z":21.5,"x":-64},{"s":58,"z":22.5,"x":-51},{"s":58,"z":23.5,"x":-41},{"s":58,"z":25,"x":-31},{"s":58,"z":30.5,"x":-27},{"s":58,"z":35.5,"x":-17},{"s":58,"z":39.5,"x":-3},
{"s":59,"z":0.5,"x":-8},{"s":59,"z":6.5,"x":-20},{"s":59,"z":12.5,"x":-28},{"s":59,"z":13.5,"x":-28},{"s":59,"z":14.5,"x":-46},{"s":59,"z":15.5,"x":-66},{"s":59,"z":16.5,"x":-81},{"s":59,"z":17.5,"x":-88},{"s":59,"z":18.5,"x":-87},{"s":59,"z":19.5,"x":-83},{"s":59,"z":20.5,"x":-74},{"s":59,"z":21.5,"x":-61},{"s":59,"z":22.5,"x":-50},{"s":59,"z":23.5,"x":-41},{"s":59,"z":25,"x":-31},{"s":59,"z":30.5,"x":-27},{"s":59,"z":35.5,"x":-17},{"s":59,"z":39.5,"x":-3},
{"s":60,"z":0.5,"x":-6},{"s":60,"z":6.5,"x":-18},{"s":60,"z":12.5,"x":-26},{"s":60,"z":13.5,"x":-29},{"s":60,"z":14.5,"x":-48},{"s":60,"z":15.5,"x":-70},{"s":60,"z":16.5,"x":-86},{"s":60,"z":17.5,"x":-92},{"s":60,"z":18.5,"x":-91},{"s":60,"z":19.5,"x":-86},{"s":60,"z":20.5,"x":-77},{"s":60,"z":21.5,"x":-64},{"s":60,"z":22.5,"x":-51},{"s":60,"z":23.5,"x":-42},{"s":60,"z":25,"x":-32},{"s":60,"z":30.5,"x":-27},{"s":60,"z":35.5,"x":-16},{"s":60,"z":39.5,"x":-3},
{"s":61,"z":0.5,"x":-5},{"s":61,"z":6.5,"x":-17},{"s":61,"z":12.5,"x":-25},{"s":61,"z":13.5,"x":-29},{"s":61,"z":14.5,"x":-47},{"s":61,"z":15.5,"x":-68},{"s":61,"z":16.5,"x":-84},{"s":61,"z":17.5,"x":-90},{"s":61,"z":18.5,"x":-89},{"s":61,"z":19.5,"x":-84},{"s":61,"z":20.5,"x":-75},{"s":61,"z":21.5,"x":-62},{"s":61,"z":22.5,"x":-50},{"s":61,"z":23.5,"x":-42},{"s":61,"z":25,"x":-32},{"s":61,"z":30.5,"x":-28},{"s":61,"z":35.5,"x":-17},{"s":61,"z":39.5,"x":-3},
{"s":62,"z":0.5,"x":-7},{"s":62,"z":6.5,"x":-19},{"s":62,"z":12.5,"x":-27},{"s":62,"z":13.5,"x":-29},{"s":62,"z":14.5,"x":-48},{"s":62,"z":15.5,"x":-71},{"s":62,"z":16.5,"x":-87},{"s":62,"z":17.5,"x":-93},{"s":62,"z":18.5,"x":-92},{"s":62,"z":19.5,"x":-87},{"s":62,"z":20.5,"x":-78},{"s":62,"z":21.5,"x":-65},{"s":62,"z":22.5,"x":-51},{"s":62,"z":23.5,"x":-42},{"s":62,"z":25,"x":-32},{"s":62,"z":30.5,"x":-29},{"s":62,"z":35.5,"x":-18},{"s":62,"z":39.5,"x":-4},
{"s":63,"z":0.5,"x":-6},{"s":63,"z":6.5,"x":-18},{"s":63,"z":12.5,"x":-26},{"s":63,"z":13.5,"x":-29},{"s":63,"z":14.5,"x":-48},{"s":63,"z":15.5,"x":-69},{"s":63,"z":16.5,"x":-85},{"s":63,"z":17.5,"x":-91},{"s":63,"z":18.5,"x":-90},{"s":63,"z":19.5,"x":-85},{"s":63,"z":20.5,"x":-76},{"s":63,"z":21.5,"x":-63},{"s":63,"z":22.5,"x":-51},{"s":63,"z":23.5,"x":-42},{"s":63,"z":25,"x":-32},{"s":63,"z":30.5,"x":-27},{"s":63,"z":35.5,"x":-17},{"s":63,"z":39.5,"x":-3},
{"s":64,"z":0.5,"x":-8},{"s":64,"z":6.5,"x":-20},{"s":64,"z":12.5,"x":-28},{"s":64,"z":13.5,"x":-29},{"s":64,"z":14.5,"x":-49},{"s":64,"z":15.5,"x":-72},{"s":64,"z":16.5,"x":-88},{"s":64,"z":17.5,"x":-94},{"s":64,"z":18.5,"x":-93},{"s":64,"z":19.5,"x":-88},{"s":64,"z":20.5,"x":-79},{"s":64,"z":21.5,"x":-66},{"s":64,"z":22.5,"x":-52},{"s":64,"z":23.5,"x":-42},{"s":64,"z":25,"x":-32},{"s":64,"z":30.5,"x":-28},{"s":64,"z":35.5,"x":-17},{"s":64,"z":39.5,"x":-3},
{"s":65,"z":0.5,"x":-10},{"s":65,"z":6.5,"x":-22},{"s":65,"z":12.5,"x":-30},{"s":65,"z":13.5,"x":-31},{"s":65,"z":14.5,"x":-48},{"s":65,"z":15.5,"x":-70},{"s":65,"z":16.5,"x":-86},{"s":65,"z":17.5,"x":-92},{"s":65,"z":18.5,"x":-91},{"s":65,"z":19.5,"x":-86},{"s":65,"z":20.5,"x":-77},{"s":65,"z":21.5,"x":-64},{"s":65,"z":22.5,"x":-51},{"s":65,"z":23.5,"x":-42},{"s":65,"z":25,"x":-32},{"s":65,"z":30.5,"x":-28},{"s":65,"z":35.5,"x":-18},{"s":65,"z":39.5,"x":-4},
{"s":66,"z":0.5,"x":-5},{"s":66,"z":6.5,"x":-17},{"s":66,"z":12.5,"x":-25},{"s":66,"z":13.5,"x":-28},{"s":66,"z":14.5,"x":-46},{"s":66,"z":15.5,"x":-68},{"s":66,"z":16.5,"x":-83},{"s":66,"z":17.5,"x":-90},{"s":66,"z":18.5,"x":-89},{"s":66,"z":19.5,"x":-85},{"s":66,"z":20.5,"x":-76},{"s":66,"z":21.5,"x":-63},{"s":66,"z":22.5,"x":-50},{"s":66,"z":23.5,"x":-41},{"s":66,"z":25,"x":-31},{"s":66,"z":30.5,"x":-28},{"s":66,"z":35.5,"x":-16},{"s":66,"z":39.5,"x":-3},
{"s":67,"z":0.5,"x":-5},{"s":67,"z":6.5,"x":-17},{"s":67,"z":12.5,"x":-25},{"s":67,"z":13.5,"x":-29},{"s":67,"z":14.5,"x":-48},{"s":67,"z":15.5,"x":-69},{"s":67,"z":16.5,"x":-85},{"s":67,"z":17.5,"x":-91},{"s":67,"z":18.5,"x":-90},{"s":67,"z":19.5,"x":-85},{"s":67,"z":20.5,"x":-76},{"s":67,"z":21.5,"x":-63},{"s":67,"z":22.5,"x":-51},{"s":67,"z":23.5,"x":-42},{"s":67,"z":25,"x":-32},{"s":67,"z":30.5,"x":-28},{"s":67,"z":35.5,"x":-17},{"s":67,"z":39.5,"x":-3},
{"s":68,"z":0.5,"x":-7},{"s":68,"z":6.5,"x":-19},{"s":68,"z":12.5,"x":-27},{"s":68,"z":13.5,"x":-28},{"s":68,"z":14.5,"x":-45},{"s":68,"z":15.5,"x":-65},{"s":68,"z":16.5,"x":-80},{"s":68,"z":17.5,"x":-87},{"s":68,"z":18.5,"x":-86},{"s":68,"z":19.5,"x":-82},{"s":68,"z":20.5,"x":-73},{"s":68,"z":21.5,"x":-60},{"s":68,"z":22.5,"x":-49},{"s":68,"z":23.5,"x":-41},{"s":68,"z":25,"x":-31},{"s":68,"z":30.5,"x":-28},{"s":68,"z":35.5,"x":-17},{"s":68,"z":39.5,"x":-3},
{"s":69,"z":0.5,"x":-6},{"s":69,"z":6.5,"x":-18},{"s":69,"z":12.5,"x":-26},{"s":69,"z":13.5,"x":-29},{"s":69,"z":14.5,"x":-48},{"s":69,"z":15.5,"x":-71},{"s":69,"z":16.5,"x":-87},{"s":69,"z":17.5,"x":-93},{"s":69,"z":18.5,"x":-92},{"s":69,"z":19.5,"x":-87},{"s":69,"z":20.5,"x":-78},{"s":69,"z":21.5,"x":-65},{"s":69,"z":22.5,"x":-51},{"s":69,"z":23.5,"x":-42},{"s":69,"z":25,"x":-32},{"s":69,"z":30.5,"x":-27},{"s":69,"z":35.5,"x":-16},{"s":69,"z":39.5,"x":-3},
{"s":70,"z":0.5,"x":-4},{"s":70,"z":6.5,"x":-16},{"s":70,"z":12.5,"x":-24},{"s":70,"z":13.5,"x":-29},{"s":70,"z":14.5,"x":-47},{"s":70,"z":15.5,"x":-68},{"s":70,"z":16.5,"x":-84},{"s":70,"z":17.5,"x":-90},{"s":70,"z":18.5,"x":-89},{"s":70,"z":19.5,"x":-84},{"s":70,"z":20.5,"x":-75},{"s":70,"z":21.5,"x":-62},{"s":70,"z":22.5,"x":-50},{"s":70,"z":23.5,"x":-42},{"s":70,"z":25,"x":-32},{"s":70,"z":30.5,"x":-28},{"s":70,"z":35.5,"x":-17},{"s":70,"z":39.5,"x":-4},
{"s":71,"z":0.5,"x":-8},{"s":71,"z":6.5,"x":-20},{"s":71,"z":12.5,"x":-28},{"s":71,"z":13.5,"x":-28},{"s":71,"z":14.5,"x":-46},{"s":71,"z":15.5,"x":-68},{"s":71,"z":16.5,"x":-83},{"s":71,"z":17.5,"x":-90},{"s":71,"z":18.5,"x":-89},{"s":71,"z":19.5,"x":-85},{"s":71,"z":20.5,"x":-76},{"s":71,"z":21.5,"x":-63},{"s":71,"z":22.5,"x":-50},{"s":71,"z":23.5,"x":-41},{"s":71,"z":25,"x":-31},{"s":71,"z":30.5,"x":-27},{"s":71,"z":35.5,"x":-17},{"s":71,"z":39.5,"x":-3},
{"s":72,"z":0.5,"x":-7},{"s":72,"z":6.5,"x":-19},{"s":72,"z":12.5,"x":-27},{"s":72,"z":13.5,"x":-29},{"s":72,"z":14.5,"x":-48},{"s":72,"z":15.5,"x":-69},{"s":72,"z":16.5,"x":-85},{"s":72,"z":17.5,"x":-91},{"s":72,"z":18.5,"x":-90},{"s":72,"z":19.5,"x":-85},{"s":72,"z":20.5,"x":-76},{"s":72,"z":21.5,"x":-63},{"s":72,"z":22.5,"x":-51},{"s":72,"z":23.5,"x":-42},{"s":72,"z":25,"x":-32},{"s":72,"z":30.5,"x":-28},{"s":72,"z":35.5,"x":-17},{"s":72,"z":39.5,"x":-3},
{"s":73,"z":0.5,"x":1},{"s":73,"z":6.5,"x":-9},{"s":73,"z":12.5,"x":-17},{"s":73,"z":13.5,"x":-26},{"s":73,"z":14.5,"x":-46},{"s":73,"z":15.5,"x":-67},{"s":73,"z":16.5,"x":-82},{"s":73,"z":17.5,"x":-89},{"s":73,"z":18.5,"x":-88},{"s":73,"z":19.5,"x":-84},{"s":73,"z":20.5,"x":-75},{"s":73,"z":21.5,"x":-62},{"s":73,"z":22.5,"x":-50},{"s":73,"z":23.5,"x":-41},{"s":73,"z":25,"x":-31},{"s":73,"z":30.5,"x":-27},{"s":73,"z":35.5,"x":-16},{"s":73,"z":39.5,"x":-3},
{"s":74,"z":0.5,"x":-6},{"s":74,"z":6.5,"x":-18},{"s":74,"z":12.5,"x":-26},{"s":74,"z":13.5,"x":-29},{"s":74,"z":14.5,"x":-49},{"s":74,"z":15.5,"x":-72},{"s":74,"z":16.5,"x":-88},{"s":74,"z":17.5,"x":-94},{"s":74,"z":18.5,"x":-93},{"s":74,"z":19.5,"x":-88},{"s":74,"z":20.5,"x":-79},{"s":74,"z":21.5,"x":-66},{"s":74,"z":22.5,"x":-52},{"s":74,"z":23.5,"x":-42},{"s":74,"z":25,"x":-32},{"s":74,"z":30.5,"x":-29},{"s":74,"z":35.5,"x":-18},{"s":74,"z":39.5,"x":-4},
{"s":75,"z":0.5,"x":-5},{"s":75,"z":6.5,"x":-17},{"s":75,"z":12.5,"x":-25},{"s":75,"z":13.5,"x":-29},{"s":75,"z":14.5,"x":-48},{"s":75,"z":15.5,"x":-70},{"s":75,"z":16.5,"x":-86},{"s":75,"z":17.5,"x":-92},{"s":75,"z":18.5,"x":-91},{"s":75,"z":19.5,"x":-86},{"s":75,"z":20.5,"x":-77},{"s":75,"z":21.5,"x":-64},{"s":75,"z":22.5,"x":-51},{"s":75,"z":23.5,"x":-42},{"s":75,"z":25,"x":-32},{"s":75,"z":30.5,"x":-28},{"s":75,"z":35.5,"x":-17},{"s":75,"z":39.5,"x":-3},
{"s":76,"z":0.5,"x":-6},{"s":76,"z":6.5,"x":-18},{"s":76,"z":12.5,"x":-26},{"s":76,"z":13.5,"x":-28},{"s":76,"z":14.5,"x":-46},{"s":76,"z":15.5,"x":-66},{"s":76,"z":16.5,"x":-81},{"s":76,"z":17.5,"x":-88},{"s":76,"z":18.5,"x":-87},{"s":76,"z":19.5,"x":-83},{"s":76,"z":20.5,"x":-74},{"s":76,"z":21.5,"x":-61},{"s":76,"z":22.5,"x":-50},{"s":76,"z":23.5,"x":-41},{"s":76,"z":25,"x":-31},{"s":76,"z":30.5,"x":-27},{"s":76,"z":35.5,"x":-17},{"s":76,"z":39.5,"x":-3},
{"s":77,"z":0.5,"x":-7},{"s":77,"z":6.5,"x":-19},{"s":77,"z":12.5,"x":-27},{"s":77,"z":13.5,"x":-29},{"s":77,"z":14.5,"x":-48},{"s":77,"z":15.5,"x":-71},{"s":77,"z":16.5,"x":-87},{"s":77,"z":17.5,"x":-93},{"s":77,"z":18.5,"x":-92},{"s":77,"z":19.5,"x":-87},{"s":77,"z":20.5,"x":-78},{"s":77,"z":21.5,"x":-65},{"s":77,"z":22.5,"x":-51},{"s":77,"z":23.5,"x":-42},{"s":77,"z":25,"x":-32},{"s":77,"z":30.5,"x":-28},{"s":77,"z":35.5,"x":-17},{"s":77,"z":39.5,"x":-3},
{"s":78,"z":0.5,"x":-6},{"s":78,"z":6.5,"x":-18},{"s":78,"z":12.5,"x":-26},{"s":78,"z":13.5,"x":-29},{"s":78,"z":14.5,"x":-48},{"s":78,"z":15.5,"x":-69},{"s":78,"z":16.5,"x":-85},{"s":78,"z":17.5,"x":-91},{"s":78,"z":18.5,"x":-90},{"s":78,"z":19.5,"x":-85},{"s":78,"z":20.5,"x":-76},{"s":78,"z":21.5,"x":-63},{"s":78,"z":22.5,"x":-51},{"s":78,"z":23.5,"x":-42},{"s":78,"z":25,"x":-32},{"s":78,"z":30.5,"x":-28},{"s":78,"z":35.5,"x":-17},{"s":78,"z":39.5,"x":-4},
{"s":79,"z":0.5,"x":-5},{"s":79,"z":6.5,"x":-17},{"s":79,"z":12.5,"x":-25},{"s":79,"z":13.5,"x":-29},{"s":79,"z":14.5,"x":-53},{"s":79,"z":15.5,"x":-80},{"s":79,"z":16.5,"x":-96},{"s":79,"z":17.5,"x":-100},{"s":79,"z":18.5,"x":-98},{"s":79,"z":19.5,"x":-92},{"s":79,"z":20.5,"x":-82},{"s":79,"z":21.5,"x":-69},{"s":79,"z":22.5,"x":-54},{"s":79,"z":23.5,"x":-43},{"s":79,"z":25,"x":-33},{"s":79,"z":30.5,"x":-28},{"s":79,"z":35.5,"x":-17},{"s":79,"z":39.5,"x":-3},
{"s":80,"z":0.5,"x":-6},{"s":80,"z":6.5,"x":-18},{"s":80,"z":12.5,"x":-26},{"s":80,"z":13.5,"x":-29},{"s":80,"z":14.5,"x":-55},{"s":80,"z":15.5,"x":-85},{"s":80,"z":16.5,"x":-101},{"s":80,"z":17.5,"x":-104},{"s":80,"z":18.5,"x":-101},{"s":80,"z":19.5,"x":-95},{"s":80,"z":20.5,"x":-85},{"s":80,"z":21.5,"x":-72},{"s":80,"z":22.5,"x":-56},{"s":80,"z":23.5,"x":-44},{"s":80,"z":25,"x":-33},{"s":80,"z":30.5,"x":-29},{"s":80,"z":35.5,"x":-18},{"s":80,"z":39.5,"x":-4},
{"s":81,"z":0.5,"x":-7},{"s":81,"z":6.5,"x":-19},{"s":81,"z":12.5,"x":-27},{"s":81,"z":13.5,"x":-30},{"s":81,"z":14.5,"x":-57},{"s":81,"z":15.5,"x":-88},{"s":81,"z":16.5,"x":-105},{"s":81,"z":17.5,"x":-108},{"s":81,"z":18.5,"x":-105},{"s":81,"z":19.5,"x":-98},{"s":81,"z":20.5,"x":-87},{"s":81,"z":21.5,"x":-74},{"s":81,"z":22.5,"x":-57},{"s":81,"z":23.5,"x":-44},{"s":81,"z":25,"x":-33},{"s":81,"z":30.5,"x":-28},{"s":81,"z":35.5,"x":-17},{"s":81,"z":39.5,"x":-3},
{"s":82,"z":0.5,"x":-6},{"s":82,"z":6.5,"x":-18},{"s":82,"z":12.5,"x":-26},{"s":82,"z":13.5,"x":-31},{"s":82,"z":14.5,"x":-58},{"s":82,"z":15.5,"x":-90},{"s":82,"z":16.5,"x":-108},{"s":82,"z":17.5,"x":-111},{"s":82,"z":18.5,"x":-107},{"s":82,"z":19.5,"x":-100},{"s":82,"z":20.5,"x":-89},{"s":82,"z":21.5,"x":-75},{"s":82,"z":22.5,"x":-58},{"s":82,"z":23.5,"x":-45},{"s":82,"z":25,"x":-34},{"s":82,"z":30.5,"x":-29},{"s":82,"z":35.5,"x":-18},{"s":82,"z":39.5,"x":-4},
{"s":83,"z":0.5,"x":-8},{"s":83,"z":6.5,"x":-20},{"s":83,"z":12.5,"x":-28},{"s":83,"z":13.5,"x":-32},{"s":83,"z":14.5,"x":-60},{"s":83,"z":15.5,"x":-93},{"s":83,"z":16.5,"x":-112},{"s":83,"z":17.5,"x":-115},{"s":83,"z":18.5,"x":-111},{"s":83,"z":19.5,"x":-103},{"s":83,"z":20.5,"x":-91},{"s":83,"z":21.5,"x":-77},{"s":83,"z":22.5,"x":-59},{"s":83,"z":23.5,"x":-45},{"s":83,"z":25,"x":-34},{"s":83,"z":30.5,"x":-28},{"s":83,"z":35.5,"x":-17},{"s":83,"z":39.5,"x":-3},
{"s":84,"z":0.5,"x":-7},{"s":84,"z":6.5,"x":-19},{"s":84,"z":12.5,"x":-27},{"s":84,"z":13.5,"x":-33},{"s":84,"z":14.5,"x":-62},{"s":84,"z":15.5,"x":-97},{"s":84,"z":16.5,"x":-118},{"s":84,"z":17.5,"x":-121},{"s":84,"z":18.5,"x":-116},{"s":84,"z":19.5,"x":-107},{"s":84,"z":20.5,"x":-95},{"s":84,"z":21.5,"x":-80},{"s":84,"z":22.5,"x":-61},{"s":84,"z":23.5,"x":-46},{"s":84,"z":25,"x":-34},{"s":84,"z":30.5,"x":-29},{"s":84,"z":35.5,"x":-18},{"s":84,"z":39.5,"x":-4},
{"s":85,"z":0.5,"x":-8},{"s":85,"z":6.5,"x":-20},{"s":85,"z":12.5,"x":-28},{"s":85,"z":13.5,"x":-36},{"s":85,"z":14.5,"x":-67},{"s":85,"z":15.5,"x":-105},{"s":85,"z":16.5,"x":-128},{"s":85,"z":17.5,"x":-131},{"s":85,"z":18.5,"x":-125},{"s":85,"z":19.5,"x":-114},{"s":85,"z":20.5,"x":-101},{"s":85,"z":21.5,"x":-85},{"s":85,"z":22.5,"x":-64},{"s":85,"z":23.5,"x":-48},{"s":85,"z":25,"x":-35},{"s":85,"z":30.5,"x":-29},{"s":85,"z":35.5,"x":-18},{"s":85,"z":39.5,"x":-4},
{"s":86,"z":0.5,"x":-6},{"s":86,"z":6.5,"x":-18},{"s":86,"z":12.5,"x":-26},{"s":86,"z":13.5,"x":-34},{"s":86,"z":14.5,"x":-64},{"s":86,"z":15.5,"x":-100},{"s":86,"z":16.5,"x":-122},{"s":86,"z":17.5,"x":-125},{"s":86,"z":18.5,"x":-120},{"s":86,"z":19.5,"x":-110},{"s":86,"z":20.5,"x":-97},{"s":86,"z":21.5,"x":-82},{"s":86,"z":22.5,"x":-62},{"s":86,"z":23.5,"x":-46},{"s":86,"z":25,"x":-35},{"s":86,"z":30.5,"x":-28},{"s":86,"z":35.5,"x":-17},{"s":86,"z":39.5,"x":-3}
]},
"layer":[
{"data":{"name":"r"},
 "transform":[{"lookup":"s","from":{"data":{"name":"dates"},"key":"s","fields":["d"]}},{"filter":"datum.s > 0"}],
 "mark":{"type":"line","strokeWidth":1.3,"interpolate":"catmull-rom"},
 "encoding":{
  "x":{"field":"x","type":"quantitative","scale":{"domain":[-140,60],"nice":false,"zero":false},
   "axis":{"values":[-140,-130,-120,-110,-100,-90,-80,-70,-60,-50,-40,-30,-20,-10,0,10,20,30,40,50,60],"labelExpr":"'' + datum.value","labelOverlap":false,"labelFlush":false,"tickSize":5,"labelPadding":9,"labelFont":"Liberation Sans","labelFontSize":14,"labelColor":"black","title":"Cumulative deflection (mm)","titleFont":"Liberation Sans","titleFontSize":19,"titleFontWeight":"normal","titleColor":"black","titlePadding":22,"grid":true,"domain":true}},
  "y":{"field":"z","type":"quantitative","scale":{"domain":[0.5,40],"reverse":true,"nice":false,"zero":false},
   "axis":{"orient":"right","values":[0.5,2.5,4.5,6.5,8.5,10.5,12.5,14.5,16.5,18.5,20.5,22.5,24.5,26.5,28.5,30.5,32.5,34.5,36.5,38.5],"format":".1f","ticks":false,"domain":false,"labelPadding":15,"labelFont":"Liberation Sans","labelFontSize":14,"labelFontWeight":"bold","labelColor":"black","labelAlign":"left","labelBaseline":"middle","labelOverlap":false,"labelFlush":false,"title":"Depth (m)","titleFont":"Liberation Sans","titleFontSize":18,"titleFontWeight":"bold","titleColor":"black","titleAngle":270,"titleX":65,"titleY":886,"titleAlign":"center","titleBaseline":"middle","grid":true}},
  "order":{"field":"z","type":"quantitative"},
  "color":{"field":"d","type":"nominal",
   "scale":{"domain":["01/08/12","08/08/12","22/08/12","05/09/12","06/09/12","21/09/12","15/10/12","24/10/12","20/11/12","26/11/12","27/11/12","29/11/12","30/11/12","03/12/12","04/12/12","05/12/12","06/12/12","07/12/12","10/12/12","11/12/12","12/12/12","13/12/12","14/12/12","17/12/12","18/12/12","19/12/12","20/12/12","21/12/12","24/12/12","27/12/12","31/12/12","03/01/13","04/01/13","07/01/13","08/01/13","09/01/13","10/01/13","11/01/13","14/01/13","15/01/13","16/01/13","17/01/13","18/01/13","21/01/13","22/01/13","23/01/13","28/01/13","29/01/13","05/02/13","06/02/13","07/02/13","08/02/13","11/02/13","12/02/13","13/02/13","14/02/13","18/02/13","19/02/13","20/02/13","21/02/13","22/02/13","25/02/13","26/02/13","27/02/13","28/02/13","01/03/13","04/03/13","05/03/13","07/03/13","08/03/13","11/03/13","12/03/13","13/03/13","14/03/13","18/03/13","19/03/13","20/03/13","21/03/13","22/03/13","25/03/13","03/04/13","10/04/13","16/04/13","24/04/13","30/04/13","08/05/13","21/05/13"],
   "range":["#000000","#953735","#77933C","#604A7B","#31859C","#E46C0A","#3D689D","#A03D3B","#809D43","#685085","#388FA6","#E97619","#4370A7","#AA4341","#89A74A","#70578E","#3E98B1","#ED8128","#4979B2","#B54A47","#92B152","#785E98","#45A2BC","#F28C37","#4F81BD","#C0504D","#9BBB59","#8064A2","#4BACC6","#F79646","#5887C0","#C35956","#A0BE61","#866CA7","#54B0C9","#F79B4F","#618EC4","#C6625F","#A5C26A","#8D74AB","#5DB4CC","#F8A159","#6994C7","#C96A68","#AAC572","#937BB0","#66B8CF","#F8A662","#769DCB","#CE7774","#B1CA7E","#9C86B6","#73BED3","#F9AD6F","#84A7D1","#D38582","#B9CF8B","#A693BE","#81C5D7","#F9B67E","#92B1D6","#D89391","#C1D598","#B09FC5","#8FCCDC","#FABE8C","#A0BBDB","#DDA09F","#C9DAA5","#BAABCD","#9ED2E0","#FBC69B","#AEC5E1","#E2AFAD","#D1E0B3","#C5B8D4","#ACD9E5","#FBCFAA","#BCCFE6","#E7BDBB","#D9E5C0","#CFC4DC","#BBE0E9","#FCD7B9","#CAD9EB","#ECCBCA","#E1EBCD"]},
   "legend":{"orient":"none","legendX":-170.7,"legendY":-69,"direction":"vertical","title":null,"symbolLimit":200,"labelLimit":300,
    "symbolType":"M-12.75,0H12.75M0,-1V1M44.5,0","symbolSize":16,"symbolStrokeWidth":1.5,"symbolOffset":31.4,"symbolFillColor":"transparent",
    "labelFont":"Liberation Sans","labelFontSize":15,"labelFontWeight":"bold","labelColor":"black","labelOffset":22.6,"labelBaseline":"middle",
    "rowPadding":3.2,"padding":3.5,"strokeColor":"black",
    "encode":{
     "legend":{"update":{"strokeWidth":{"value":1.5}}},
     "symbols":{"update":{
      "strokeWidth":{"signal":"datum.value === '01/08/12' ? 4 : 1.5"},
      "fill":{"signal":"datum.value === '01/08/12' ? 'black' : 'transparent'"},
      "shape":{"signal":"datum.value === '01/08/12' ? 'M-12.75,0H12.75M-1.5,-1.5H1.5V1.5H-1.5ZM44.5,0' : (datum.value === '19/02/13' ? 'M-12.75,0H12.75M-1.6,-1.6L1.6,1.6M-1.6,1.6L1.6,-1.6M44.5,0' : 'M-12.75,0H12.75M0,-1V1M44.5,0')"}
    }}}}}}},
{"data":{"name":"r"},
 "transform":[{"lookup":"s","from":{"data":{"name":"dates"},"key":"s","fields":["d"]}},{"filter":"datum.s > 0"}],
 "mark":{"type":"point","filled":false,"strokeWidth":1.2,"size":50,"opacity":1},
 "encoding":{"x":{"field":"x","type":"quantitative","axis":null},"y":{"field":"z","type":"quantitative","axis":null},
  "color":{"condition":{"test":"datum.d === '12/12/12'","value":"black"},"field":"d","type":"nominal"},
  "shape":{"condition":{"test":"datum.d === '19/02/13'","value":"M-1,-1L1,1M-1,1L1,-1"},"value":"M-1,0H1M0,-1V1"}}},
{"data":{"name":"r"},
 "transform":[{"filter":"datum.s === 0"}],
 "mark":{"type":"line","strokeWidth":3,"color":"black"},
 "encoding":{"x":{"field":"x","type":"quantitative","axis":null},"y":{"field":"z","type":"quantitative","axis":null},"order":{"field":"z","type":"quantitative"}}},
{"data":{"name":"r"},
 "transform":[{"filter":"datum.s === 0"}],
 "mark":{"type":"square","size":36,"color":"black","filled":true,"opacity":1},
 "encoding":{"x":{"field":"x","type":"quantitative","axis":null},"y":{"field":"z","type":"quantitative","axis":null}}},
{"data":{"name":"notes"},
 "transform":[{"filter":"datum.t === 'Eastbound TBM'"}],
 "mark":{"type":"rect","fill":"transparent","stroke":"black","strokeWidth":2},
 "encoding":{"x":{"datum":-193.3,"type":"quantitative","axis":null},"x2":{"datum":-89.2},"y":{"datum":30.97,"type":"quantitative","axis":null},"y2":{"datum":31.47}}},
{"data":{"name":"notes"},
 "transform":[{"filter":"datum.t === 'Westbound TBM'"}],
 "mark":{"type":"rect","fill":"transparent","stroke":"black","strokeWidth":2},
 "encoding":{"x":{"datum":-191.6,"type":"quantitative","axis":null},"x2":{"datum":-87.4},"y":{"datum":34.97,"type":"quantitative","axis":null},"y2":{"datum":35.46}}},
{"data":{"name":"notes"},
 "transform":[{"filter":"datum.t === 'Eastbound TBM'"}],
 "mark":{"type":"text","font":"Liberation Sans","fontSize":14,"color":"black","align":"center","baseline":"middle"},
 "encoding":{"x":{"datum":-117.5,"type":"quantitative","axis":null},"y":{"datum":31.23,"type":"quantitative","axis":null},"text":{"field":"t","type":"nominal"}}},
{"data":{"name":"notes"},
 "transform":[{"filter":"datum.t === 'Westbound TBM'"}],
 "mark":{"type":"text","font":"Liberation Sans","fontSize":14,"color":"black","align":"center","baseline":"middle"},
 "encoding":{"x":{"datum":-115.6,"type":"quantitative","axis":null},"y":{"datum":35.2,"type":"quantitative","axis":null},"text":{"field":"t","type":"nominal"}}}
]
}
